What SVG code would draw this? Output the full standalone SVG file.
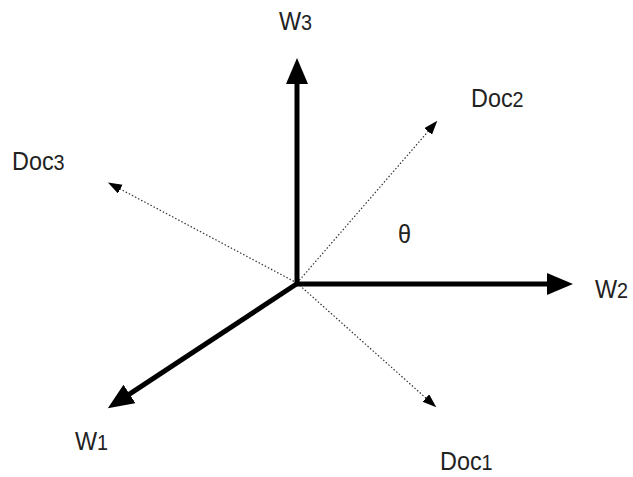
<svg xmlns="http://www.w3.org/2000/svg" width="633" height="477" viewBox="0 0 633 477">
<style>
.axis{stroke:#000;stroke-width:5;fill:none;stroke-linecap:butt}
.doc{stroke:#333;stroke-width:1.2;stroke-dasharray:1.5 2;fill:none}
.lbl{font-family:"Liberation Sans",Arial,sans-serif;font-size:26px;fill:#222}
.sub{font-size:22px}
</style>
<defs>
<marker id="big" markerUnits="userSpaceOnUse" markerWidth="28" markerHeight="24" refX="1" refY="11" orient="auto">
<path d="M0,0 L26,11 L0,22 z" fill="#000"/>
</marker>
<marker id="small" markerUnits="userSpaceOnUse" markerWidth="16" markerHeight="12" refX="1" refY="5" orient="auto">
<path d="M0,0 L14,5 L0,10 z" fill="#000"/>
</marker>
</defs>
<g id="connectors">
<line class="doc" x1="297" y1="283" x2="428.8" y2="130.6" marker-end="url(#small)"/>
<line class="doc" x1="297" y1="283" x2="119.4" y2="188.6" marker-end="url(#small)"/>
<line class="doc" x1="297" y1="283" x2="426.6" y2="398.7" marker-end="url(#small)"/>
<line class="axis" x1="297" y1="285" x2="297" y2="83" marker-end="url(#big)"/>
<line class="axis" x1="295" y1="284" x2="548" y2="284" marker-end="url(#big)"/>
<line class="axis" x1="298" y1="283" x2="128.7" y2="394.6" marker-end="url(#big)"/>
</g>
<g id="W3"><text class="lbl" transform="translate(279,30) scale(0.9,1)">W<tspan class="sub">3</tspan></text></g>
<g id="W2"><text class="lbl" transform="translate(595,298) scale(0.9,1)">W<tspan class="sub">2</tspan></text></g>
<g id="W1"><text class="lbl" transform="translate(75,450) scale(0.9,1)">W<tspan class="sub">1</tspan></text></g>
<g id="Doc1"><text class="lbl" transform="translate(440,470) scale(0.9,1)">Doc<tspan class="sub">1</tspan></text></g>
<g id="Doc2"><text class="lbl" transform="translate(471,107) scale(0.9,1)">Doc<tspan class="sub">2</tspan></text></g>
<g id="Doc3"><text class="lbl" transform="translate(12,170) scale(0.9,1)">Doc<tspan class="sub">3</tspan></text></g>
<g id="theta"><text class="lbl" transform="translate(398,243) scale(0.9,1)">θ</text></g>
</svg>
